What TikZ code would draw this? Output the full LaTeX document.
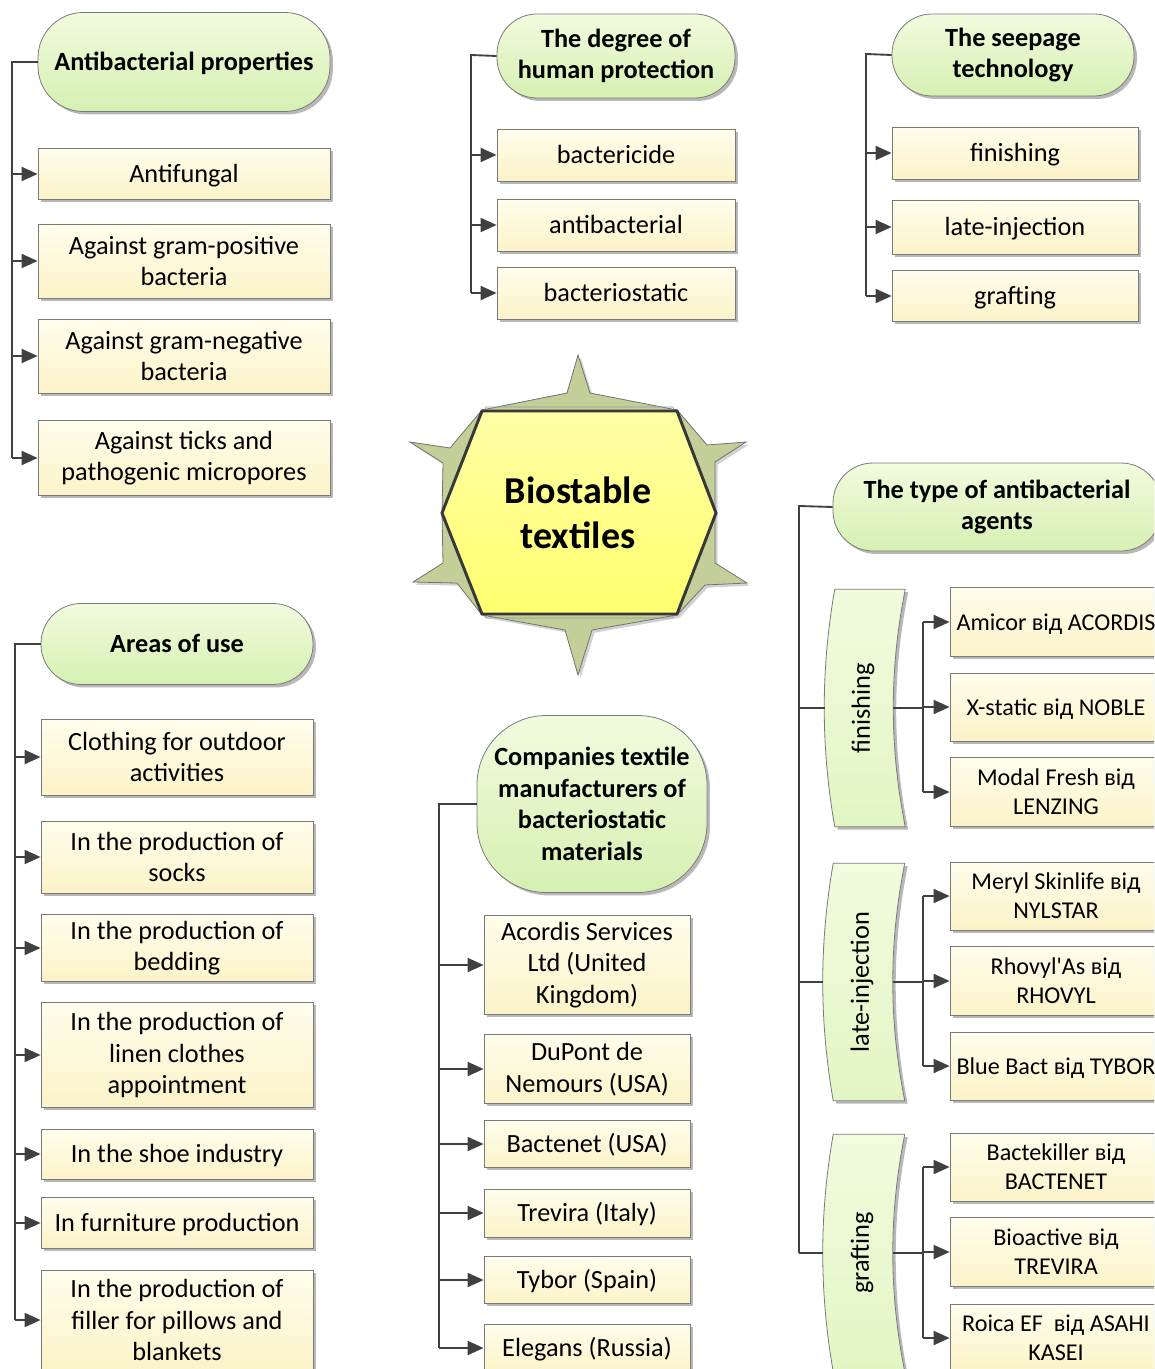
\documentclass[tikz,border=0pt]{standalone}
\usepackage{fontspec}
\setmainfont{Carlito}[Ligatures=TeXOff]
\usetikzlibrary{arrows.meta,shadows,calc}
\definecolor{lc}{HTML}{404040}
\definecolor{bd}{HTML}{7A7A7A}
\definecolor{bxT}{HTML}{FFFDEC}
\definecolor{bxB}{HTML}{FBF3C8}
\definecolor{hdT}{HTML}{F1FBDE}
\definecolor{hdB}{HTML}{D6F0B2}
\definecolor{arB}{HTML}{E2F6C4}
\definecolor{starc}{HTML}{C4CE98}
\definecolor{hexT}{HTML}{FFFFA6}
\definecolor{hexB}{HTML}{FFFF6E}
\newcommand\fsN{\fontsize{19.7}{23.6}\selectfont}
\newcommand\fsS{\fontsize{18.1}{21.8}\selectfont}
\newcommand\fsC{\fontsize{28.5}{34}\selectfont}
\newcommand\topstrut{\rule{0pt}{0.95em}}
\newcommand\botstrut{\rule[-0.27em]{0pt}{0pt}}
\tikzset{
  ln/.style={draw=lc, line width=1.4pt},
  arr/.style={ln, -{Triangle[length=12pt,width=10.5pt]}},
  shd/.style={drop shadow={shadow xshift=2.2pt,shadow yshift=-2.2pt,fill=black!28,opacity=1}},
  one/.style={execute at begin node=\topstrut, execute at end node=\botstrut},
  box/.style={draw=bd, line width=0.6pt, top color=bxT, bottom color=bxB, inner sep=0pt, align=center, font=\fsN, shd},
  sbox/.style={box, font=\fsS},
  hdr/.style={draw=bd, line width=0.6pt, top color=hdT, bottom color=hdB, inner sep=0pt, align=center, font=\fsN\bfseries, rounded corners=30pt, shd},
  arch/.style={draw=bd, line width=0.6pt, top color=hdT, bottom color=arB, shd},
  sz/.style 2 args={minimum width=#1*0.75pt, minimum height=#2*0.75pt},
  txt/.style={inner sep=0pt, align=center, font=\fsN}
}
\newcommand\archbox[1]{%
 \path[arch] ($(#1.north west)+(10,0)$) -- ($(#1.north east)+(12,0)$)
   .. controls ($(#1.north east)+(-4,80)$) and ($(#1.south east)+(-4,-80)$) .. ($(#1.south east)+(12,0)$)
   -- ($(#1.south west)+(10,0)$)
   .. controls ($(#1.south west)+(-4,-80)$) and ($(#1.north west)+(-4,80)$) .. cycle;}
\begin{document}
\begin{tikzpicture}[x=0.75pt,y=-0.75pt]
\useasboundingbox (0,0) rectangle (1154,1369);
\clip (0,0) rectangle (1154,1369);

% ---------- centre ----------
\path[fill=starc, draw=black!55, line width=0.6pt, drop shadow={shadow xshift=2pt,shadow yshift=-2pt,fill=black!18,opacity=1}]
  (578,355) -- (590,393) -- (677,410) -- (707,445) -- (746,442) -- (715,462)
  -- (715,563) -- (747,583) -- (705,585) -- (677,615) -- (592,630) -- (578,675)
  -- (565,630) -- (482,615) -- (457,583) -- (413,582) -- (443,563) -- (442,513)
  -- (443,463) -- (410,442) -- (450,448) -- (482,410) -- (567,393) -- cycle;
\path[draw=black!40, line width=0.5pt]
  (486,407) -- (673,407) -- (712,513) -- (673,618) -- (486,618) -- (446,513) -- cycle;
\path[draw=black!78, line width=2.2pt, top color=hexT, bottom color=hexB]
  (482,411) -- (677,411) -- (716,513) -- (677,614) -- (482,614) -- (442,513) -- cycle;
\node[inner sep=0pt, align=center, font=\fsC\bfseries] (bt) at (578,513) {Biostable\\textiles};

% ---------- Antibacterial properties ----------
\node[hdr, one, sz={292}{99}, rounded corners=34pt] (abh) at (184,62) {Antibacterial properties};
\node[box, one, sz={292}{51}] (ab1) at (184,174) {Antifungal};
\node[box, sz={292}{74}] (ab2) at (184,261) {Against gram-positive\\bacteria};
\node[box, sz={292}{74}] (ab3) at (184,356) {Against gram-negative\\bacteria};
\node[box, sz={292}{75}] (ab4) at (184,458) {Against ticks and\\pathogenic micropores};
\coordinate (abT) at (12,62);
\draw[ln] (abh.west) -- (abT) -- (abT |- ab4.west);
\foreach \n in {ab1,ab2,ab3,ab4} \draw[arr] (abT |- \n.west) -- (\n.west);

% ---------- degree of human protection ----------
\node[hdr, sz={238}{84}] (dh) at (616,56) {The degree of\\human protection};
\node[box, one, sz={238}{52}] (dh1) at (616,155) {bactericide};
\node[box, one, sz={238}{52}] (dh2) at (616,225) {antibacterial};
\node[box, one, sz={238}{52}] (dh3) at (616,293) {bacteriostatic};
\coordinate (dhT) at (471,55);
\draw[ln] (dh.west) -- (dhT) -- (dhT |- dh3.west);
\foreach \n in {dh1,dh2,dh3} \draw[arr] (dhT |- \n.west) -- (\n.west);

% ---------- seepage technology ----------
\node[hdr, sz={242}{82}] (st) at (1013,55) {The seepage\\technology};
\node[box, one, sz={246}{52}] (st1) at (1015,153) {finishing};
\node[box, one, sz={246}{54}] (st2) at (1015,227) {late-injection};
\node[box, one, sz={246}{51}] (st3) at (1015,296) {grafting};
\coordinate (stT) at (866,54);
\draw[ln] (st.west) -- (stT) -- (stT |- st3.west);
\foreach \n in {st1,st2,st3} \draw[arr] (stT |- \n.west) -- (\n.west);

% ---------- Areas of use ----------
\node[hdr, one, sz={272}{81}] (au) at (177,644) {Areas of use};
\node[box, sz={272}{76}] (au1) at (177,757) {Clothing for outdoor\\activities};
\node[box, sz={272}{72}] (au2) at (177,857) {In the production of\\socks};
\node[box, sz={272}{67}] (au3) at (177,948) {In the production of\\bedding};
\node[box, sz={272}{105}] (au4) at (177,1055) {In the production of\\linen clothes\\appointment};
\node[box, one, sz={272}{50}] (au5) at (177,1154) {In the shoe industry};
\node[box, one, sz={272}{51}] (au6) at (177,1223) {In furniture production};
\node[box, sz={272}{100}] (au7) at (177,1320) {In the production of\\filler for pillows and\\blankets};
\coordinate (auT) at (15,644);
\draw[ln] (au.west) -- (auT) -- (auT |- au7.west);
\foreach \n in {au1,au2,au3,au4,au5,au6,au7} \draw[arr] (auT |- \n.west) -- (\n.west);

% ---------- Companies ----------
\node[hdr, sz={230}{177}, rounded corners=52pt] (co) at (592,804) {Companies textile\\manufacturers of\\bacteriostatic\\materials};
\node[box, sz={206}{99}] (co1) at (587,965) {Acordis Services\\Ltd (United\\Kingdom)};
\node[box, sz={206}{69}] (co2) at (587,1069) {DuPont de\\Nemours (USA)};
\node[box, one, sz={206}{47}] (co3) at (587,1144) {Bactenet (USA)};
\node[box, one, sz={206}{48}] (co4) at (587,1213) {Trevira (Italy)};
\node[box, one, sz={206}{47}] (co5) at (587,1280) {Tybor (Spain)};
\node[box, one, sz={206}{48}] (co6) at (587,1348) {Elegans (Russia)};
\coordinate (coT) at (439,804);
\draw[ln] (co.west) -- (coT) -- (coT |- co6.west);
\foreach \n in {co1,co2,co3,co4,co5,co6} \draw[arr] (coT |- \n.west) -- (\n.west);

% ---------- type of antibacterial agents ----------
\node[hdr, sz={328}{88}] (ty) at (997,507) {The type of antibacterial\\agents};
\node[inner sep=0pt, sz={68}{237}] (fin) at (859,708) {};
\node[inner sep=0pt, sz={69}{237}] (li) at (858,982) {};
\node[inner sep=0pt, sz={69}{237}] (gr) at (858,1253) {};
\archbox{fin}\archbox{li}\archbox{gr}
\node[txt, rotate=90] (finT) at ($(fin.center)+(4,0)$) {finishing};
\node[txt, rotate=90] (liT) at ($(li.center)+(4,0)$) {late-injection};
\node[txt, rotate=90] (grT) at ($(gr.center)+(4,0)$) {grafting};

\node[sbox, one, sz={212}{69}] (f1) at (1056,622) {Amicor від ACORDIS};
\node[sbox, one, sz={212}{68}] (f2) at (1056,707) {X-static від NOBLE};
\node[sbox, sz={212}{69}] (f3) at (1056,792) {Modal Fresh від\\LENZING};
\node[sbox, sz={212}{68}] (l1) at (1056,896) {Meryl Skinlife від\\NYLSTAR};
\node[sbox, sz={212}{69}] (l2) at (1056,981) {Rhovyl'As від\\RHOVYL};
\node[sbox, one, sz={212}{68}] (l3) at (1056,1066) {Blue Bact від TYBOR};
\node[sbox, sz={212}{68}] (g1) at (1056,1167) {Bactekiller від\\BACTENET};
\node[sbox, sz={212}{69}] (g2) at (1056,1252) {Bioactive від\\TREVIRA};
\node[sbox, sz={212}{68}] (g3) at (1056,1338) {Roica EF\ \ від ASAHI\\KASEI};

\coordinate (tyT) at (799,506);
\draw[ln] (ty.west) -- (tyT) -- (tyT |- gr.west);
\foreach \n in {fin,li,gr} \draw[ln] (tyT |- \n.west) -- (\n.west);

\coordinate (fT) at (923,708);
\draw[ln] (fin.east) -- (fT);
\draw[ln] (fT |- f1.west) -- (fT |- f3.west);
\foreach \n in {f1,f2,f3} \draw[arr] (fT |- \n.west) -- (\n.west);

\coordinate (lT) at (923,982);
\draw[ln] (li.east) -- (lT);
\draw[ln] (lT |- l1.west) -- (lT |- l3.west);
\foreach \n in {l1,l2,l3} \draw[arr] (lT |- \n.west) -- (\n.west);

\coordinate (gT) at (923,1253);
\draw[ln] (gr.east) -- (gT);
\draw[ln] (gT |- g1.west) -- (gT |- g3.west);
\foreach \n in {g1,g2,g3} \draw[arr] (gT |- \n.west) -- (\n.west);
\end{tikzpicture}
\end{document}
